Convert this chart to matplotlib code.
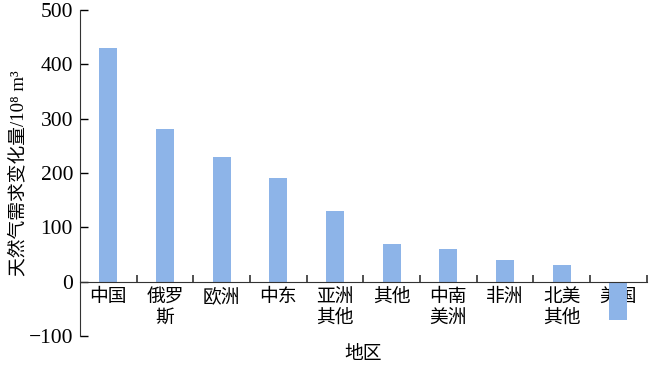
import matplotlib
matplotlib.use('Agg')
import matplotlib.pyplot as plt
import numpy as np

# Regional change in natural gas demand (10^8 m^3)
regions = ['中国', '俄罗\n斯', '欧洲', '中东', '亚洲\n其他', '其他', '中南\n美洲', '非洲', '北美\n其他', '美国']
changes = [430, 280, 230, 190, 130, 70, 60, 40, 30, -70]
y_ticks = [-100, 0, 100, 200, 300, 400, 500]

plt.rcParams['font.family'] = ['Liberation Serif', 'Noto Sans CJK SC', 'DejaVu Serif']

fig = plt.figure(figsize=(6.5, 3.68), dpi=100)
ax = fig.add_axes([0.123, 0.087, 0.872, 0.886])

x = np.arange(len(regions))
ax.bar(x, changes, width=0.32, color='#8db4e8', zorder=2)

ax.set_xlim(-0.5, len(regions) - 0.5)
ax.set_ylim(-100, 500)
ax.set_yticks(y_ticks)
ax.set_yticklabels([str(v).replace('-', '\u2212') for v in y_ticks], fontsize=15.5)
ax.tick_params(axis='y', direction='in', length=6, width=1, pad=5)

# category labels sit just under the zero line
ax.spines['bottom'].set_position(('data', 0))
ax.spines['top'].set_visible(False)
ax.spines['right'].set_visible(False)
ax.set_xticks(x)
ax.set_xticklabels(regions, fontsize=13.5, linespacing=1.3)
ax.tick_params(axis='x', which='major', length=0, pad=5)
ax.set_xticks(np.arange(0.5, len(regions), 1), minor=True)
ax.tick_params(axis='x', which='minor', direction='in', length=5, width=1.2, color='#333333')
for s in ax.spines.values():
    s.set_color('#333333')

ax.set_ylabel('天然气需求变化量/10⁸ m³', fontsize=13.5)
ax.yaxis.set_label_coords(-0.093, 0.5)
ax.set_xlabel('地区', fontsize=13.5)
ax.xaxis.set_label_coords(0.5, -0.03)

fig.savefig('out.png', dpi=100)
